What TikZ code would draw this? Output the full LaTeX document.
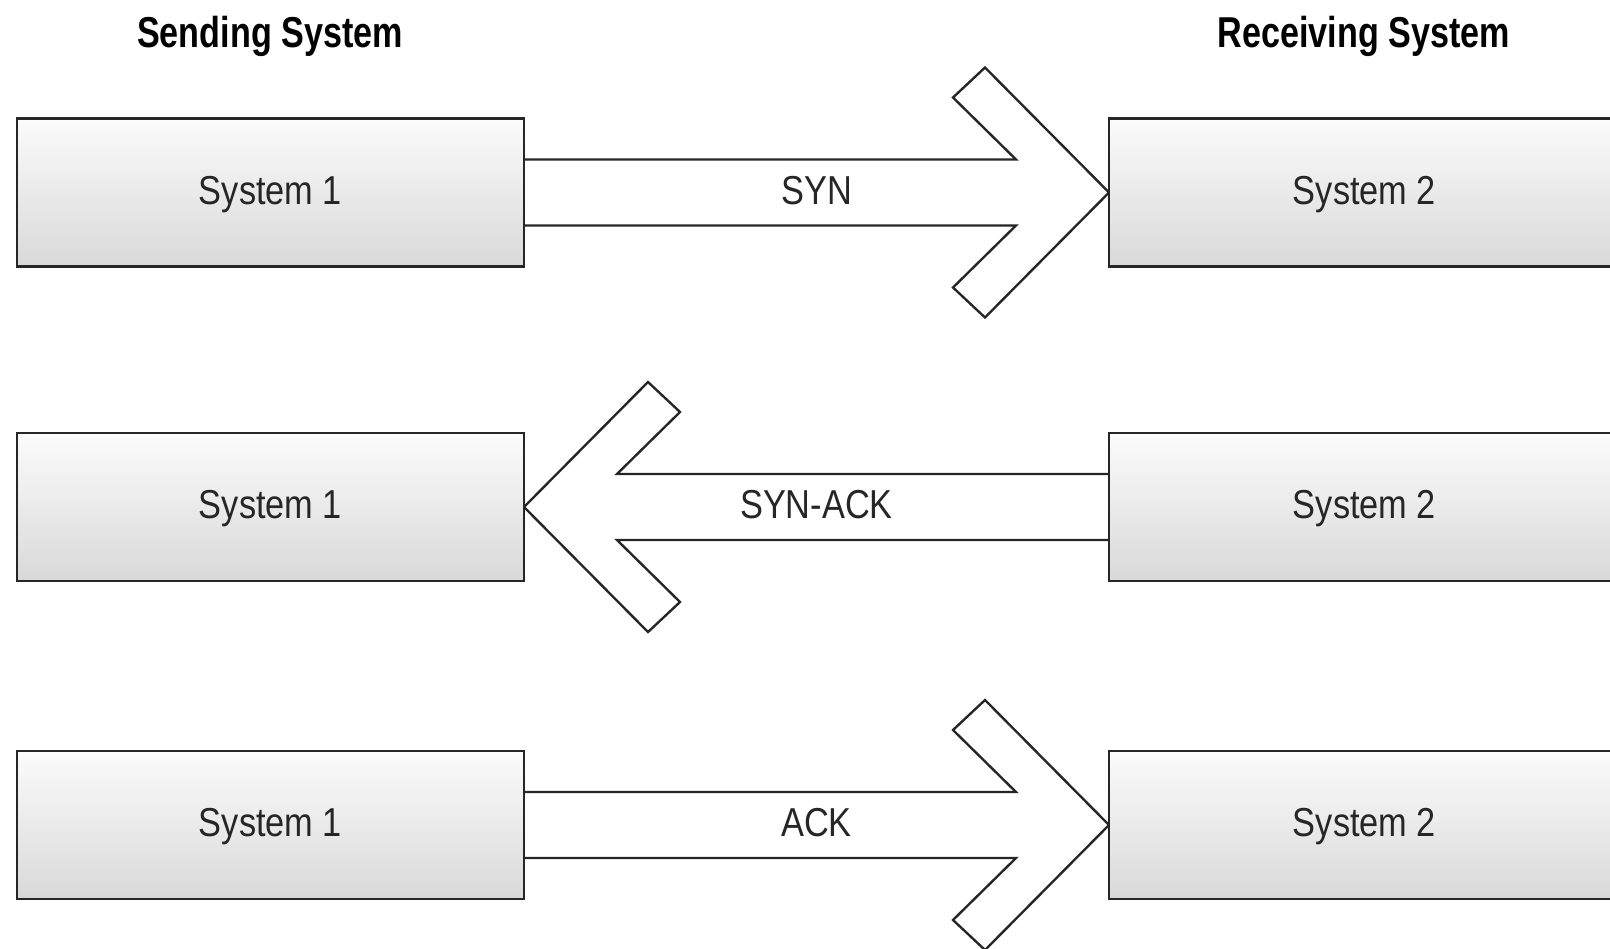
\documentclass[tikz,border=0pt]{standalone}
\usepackage{fontspec}
\setmainfont{Liberation Sans}[FakeStretch=0.85]
\newfontfamily\titlefont{Liberation Sans}[FakeStretch=0.79]
\usetikzlibrary{calc}
\definecolor{edge}{HTML}{262626}
\begin{document}
\begin{tikzpicture}[x=0.02cm,y=-0.02cm,
  sysbox/.style={draw=edge, line width=1.35pt, top color=gray!3, bottom color=gray!30,
    minimum height=2.96cm, inner sep=0pt, text height=16.5pt, text depth=3.4pt,
    font=\fontsize{23}{27}\selectfont, text=black!85},
  flow/.style={draw=edge, line width=1.35pt, fill=white, line join=miter},
  lbl/.style={font=\fontsize{23}{27}\selectfont, text height=16.5pt, text depth=3.4pt, inner sep=0pt, text=black!85},
  ttl/.style={font=\titlefont\bfseries\fontsize{24.6}{29}\selectfont, anchor=base, inner sep=0pt}]
\useasboundingbox (0,0) rectangle (1610,948);

% titles
\node[ttl] (tsend) at (270,47) {Sending System};
\node[ttl] (trecv) at (1364,47) {Receiving System};

% box centres and facing edges
\path (270.5,192.5) coordinate (ca1) (1364.5,192.5) coordinate (cb1)
      (270.5,507) coordinate (ca2) (1364.5,507) coordinate (cb2)
      (270.5,825) coordinate (ca3) (1364.5,825) coordinate (cb3);
\path (524,192.5) coordinate (ea1) (1109,192.5) coordinate (wb1)
      (524,507) coordinate (ea2) (1109,507) coordinate (wb2)
      (524,825) coordinate (ea3) (1109,825) coordinate (wb3);

% arrow 1 (right)
\draw[flow] ($(ea1)+(0,-33)$) -- ($(wb1)+(-93,-33)$) -- ($(wb1)+(-156,-95)$) -- ($(wb1)+(-124,-125)$)
  -- (wb1) -- ($(wb1)+(-124,125)$) -- ($(wb1)+(-156,95)$) -- ($(wb1)+(-93,33)$) -- ($(ea1)+(0,33)$);
% arrow 2 (left)
\draw[flow] ($(wb2)+(0,-33)$) -- ($(ea2)+(93,-33)$) -- ($(ea2)+(156,-95)$) -- ($(ea2)+(124,-125)$)
  -- (ea2) -- ($(ea2)+(124,125)$) -- ($(ea2)+(156,95)$) -- ($(ea2)+(93,33)$) -- ($(wb2)+(0,33)$);
% arrow 3 (right)
\draw[flow] ($(ea3)+(0,-33)$) -- ($(wb3)+(-93,-33)$) -- ($(wb3)+(-156,-95)$) -- ($(wb3)+(-124,-125)$)
  -- (wb3) -- ($(wb3)+(-124,125)$) -- ($(wb3)+(-156,95)$) -- ($(wb3)+(-93,33)$) -- ($(ea3)+(0,33)$);

% boxes
\node[sysbox, minimum width=10.14cm] (a1) at (ca1) {System 1};
\node[sysbox, minimum width=10.22cm] (b1) at (cb1) {System 2};
\node[sysbox, minimum width=10.14cm] (a2) at (ca2) {System 1};
\node[sysbox, minimum width=10.22cm] (b2) at (cb2) {System 2};
\node[sysbox, minimum width=10.14cm] (a3) at (ca3) {System 1};
\node[sysbox, minimum width=10.22cm] (b3) at (cb3) {System 2};

% labels
\node[lbl] (l1) at ($(a1.east)!0.5!(b1.west)$) {SYN};
\node[lbl] (l2) at ($(a2.east)!0.5!(b2.west)$) {SYN-ACK};
\node[lbl] (l3) at ($(a3.east)!0.5!(b3.west)$) {ACK};
\end{tikzpicture}
\end{document}
